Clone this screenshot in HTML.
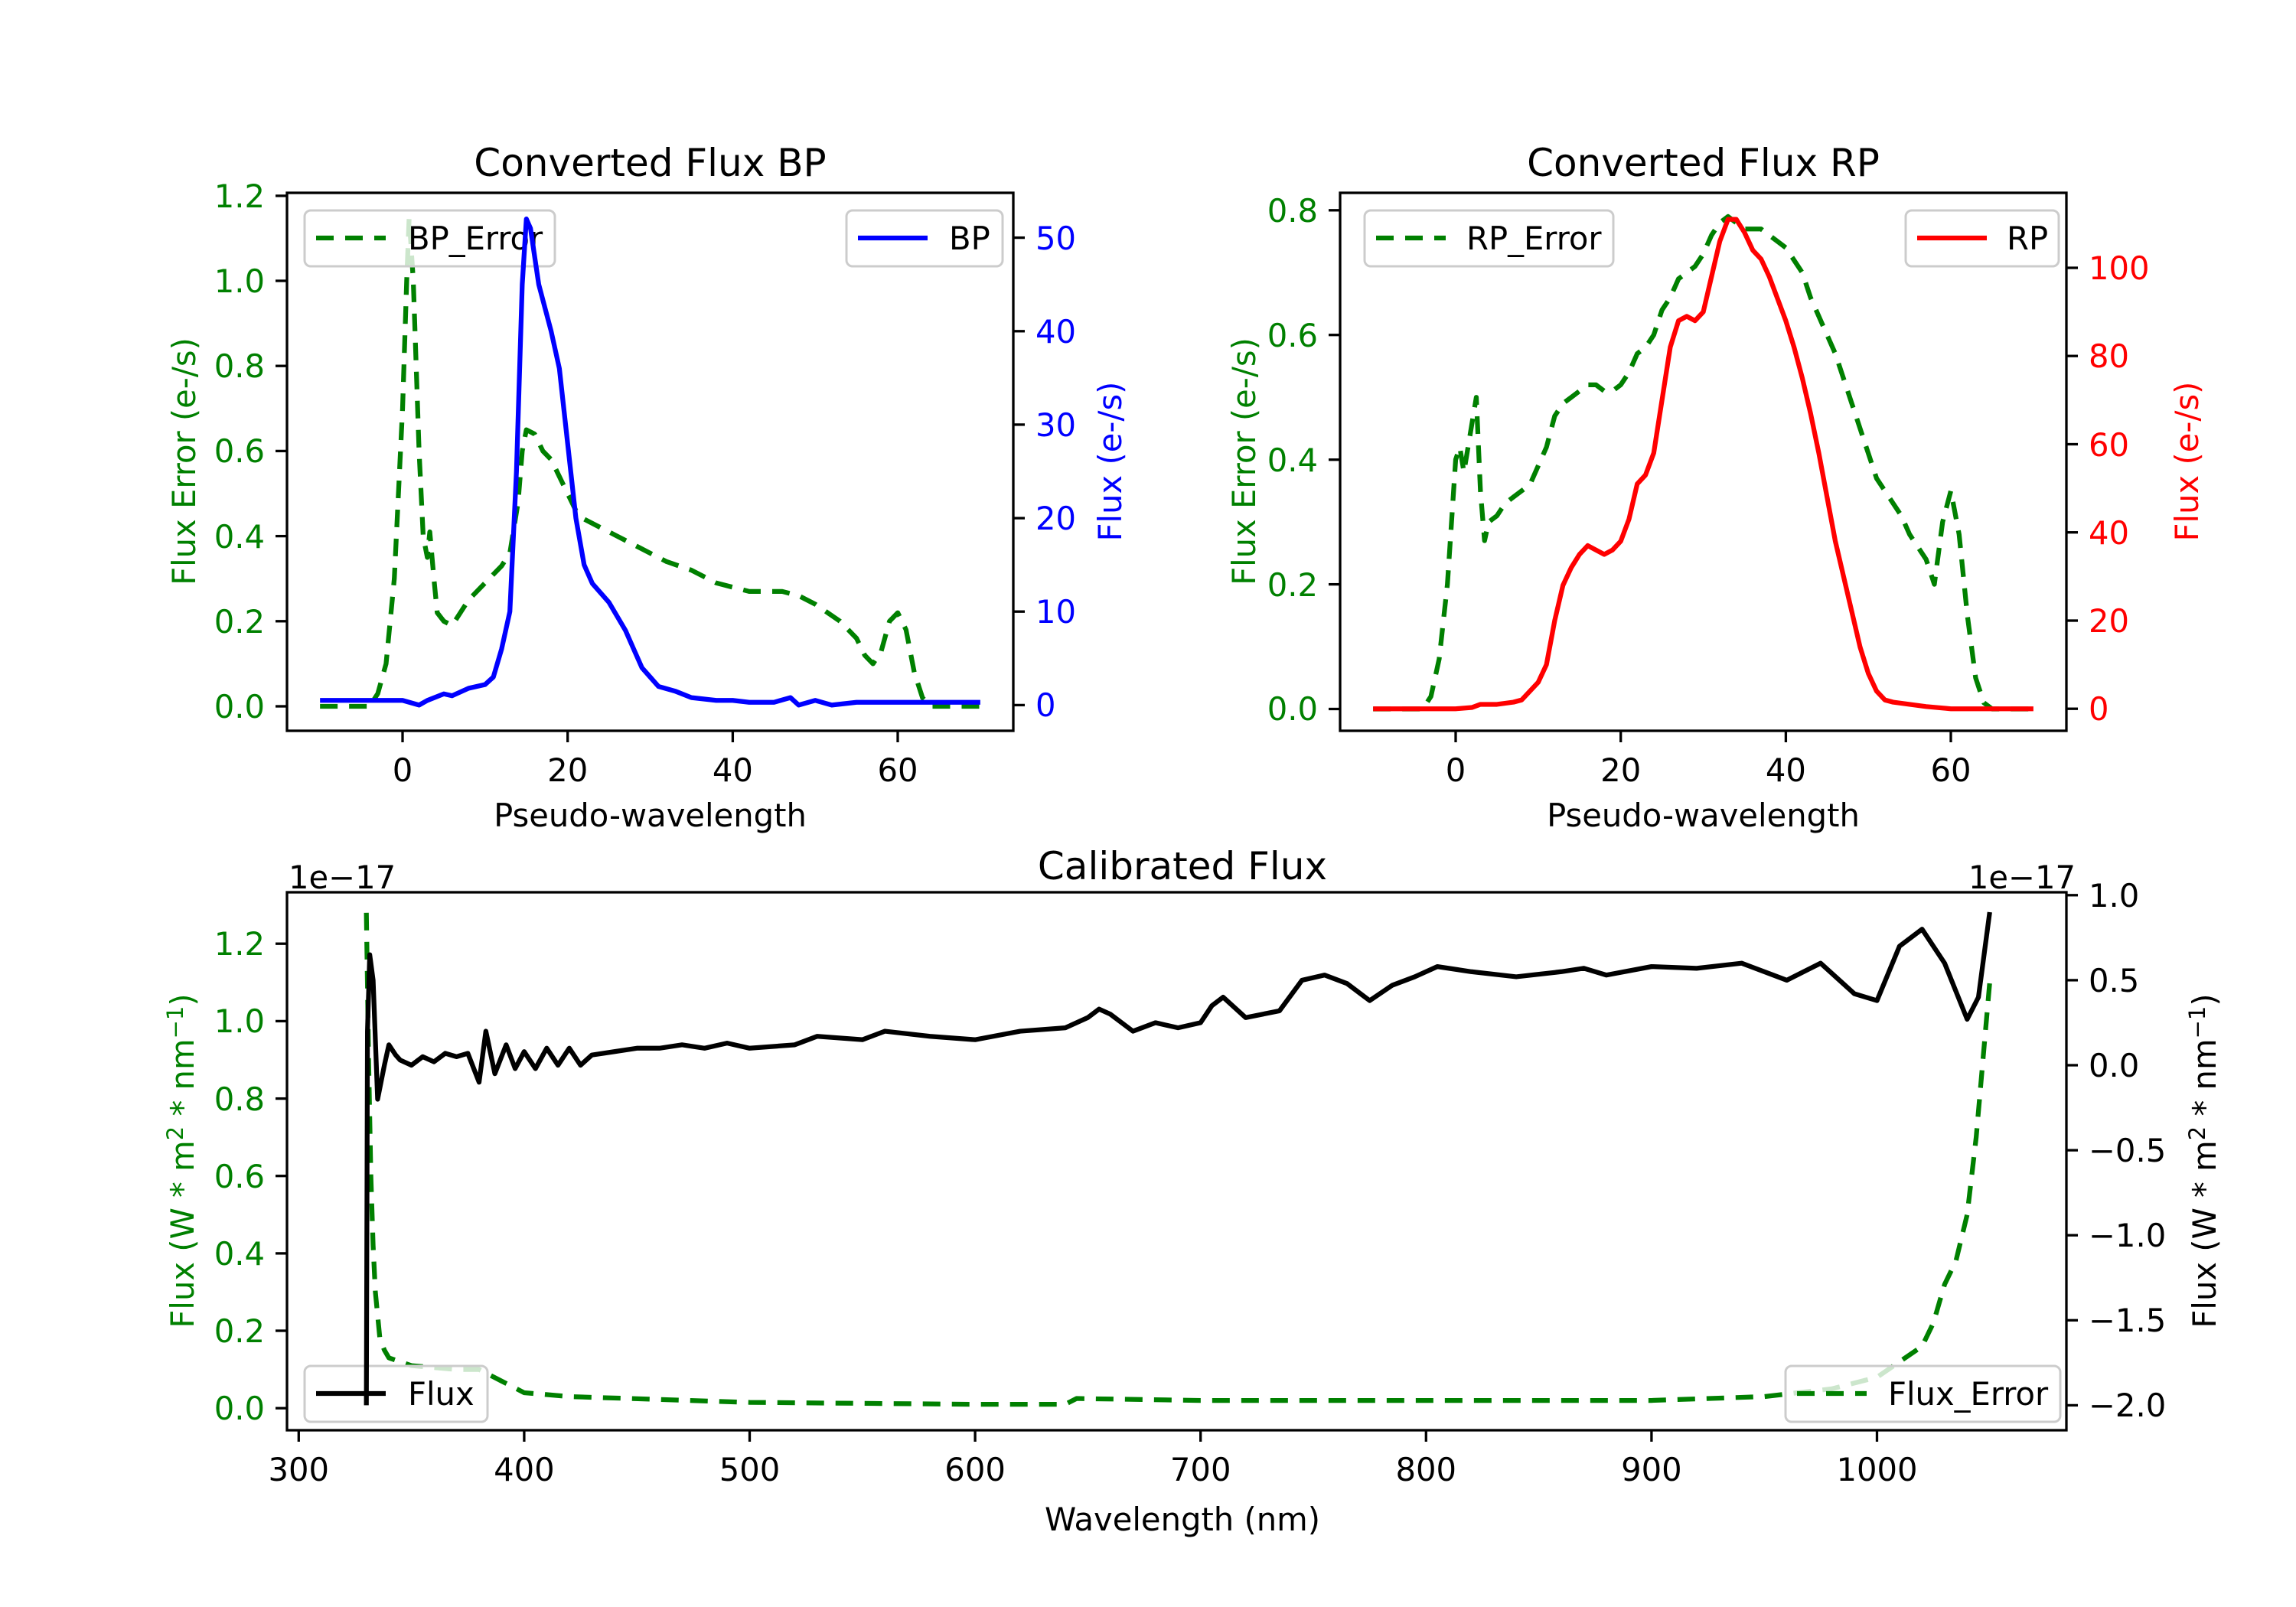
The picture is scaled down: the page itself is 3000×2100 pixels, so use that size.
<!DOCTYPE html>
<html><head><meta charset="utf-8"><style>html,body{margin:0;padding:0;background:#fff}svg{display:block}text{font-family:"DejaVu Sans","Liberation Sans",sans-serif;font-size:41.7px}.t{font-size:50px}.s{font-size:29px}</style></head>
<body>
<svg width="3000" height="2100" viewBox="0 0 3000 2100" xmlns="http://www.w3.org/2000/svg">
<rect width="3000" height="2100" fill="#fff"/>

<!-- ============ TOP LEFT ============ -->
<polyline transform="matrix(10.784 0 0 -555.95 526 923)" vector-effect="non-scaling-stroke" fill="none" stroke-linejoin="round" stroke="#008000" stroke-width="6.25" stroke-dasharray="23 15" points="-10,0 -4,0 -3,0.03 -2,0.1 -1,0.3 0,0.7 0.5,1.0 0.8,1.15 1.3,1.0 2,0.6 2.5,0.4 3,0.35 3.3,0.41 3.8,0.3 4.2,0.22 5,0.2 6,0.19 7,0.22 8,0.25 10,0.29 12,0.33 13,0.36 14,0.48 14.5,0.6 15,0.65 16,0.64 17,0.6 18,0.58 19,0.54 20,0.5 21,0.46 22,0.44 24,0.42 26,0.4 28,0.38 30,0.36 32,0.34 35,0.32 38,0.29 42,0.27 46,0.27 48,0.26 50,0.24 53,0.2 55,0.16 56,0.12 57,0.1 58,0.13 59,0.2 60,0.22 61,0.18 62,0.08 63,0.02 64,0 70,0"/>
<rect x="398" y="275" width="327" height="73" rx="8" fill="#fff" fill-opacity="0.8" stroke="#ccc" stroke-width="3"/>
<line x1="413" y1="311" x2="504" y2="311" stroke="#008000" stroke-width="6.25" stroke-dasharray="23 15"/>
<text x="533" y="326">BP_Error</text>
<polyline transform="matrix(10.784 0 0 -12.216 526 921.4)" vector-effect="non-scaling-stroke" fill="none" stroke="#0000ff" stroke-width="6.25" stroke-linejoin="round" points="-10,0.5 0,0.5 2,0 3,0.5 5,1.2 6,1 8,1.8 10,2.2 11,3 12,6 13,10 13.8,25 14.5,45 15,52 15.5,51 16.5,45 18,40 19,36 20,28 21,20 22,15 23,13 25,11 27,8 28,6 29,4 30,3 31,2 33,1.5 35,0.8 38,0.5 40,0.5 42,0.3 45,0.3 47,0.8 48,0 50,0.5 52,0 55,0.3 60,0.3 70,0.3"/>
<rect x="1106" y="275" width="204" height="73" rx="8" fill="#fff" fill-opacity="0.8" stroke="#ccc" stroke-width="3"/>
<line x1="1121" y1="311" x2="1212" y2="311" stroke="#0000ff" stroke-width="6.25"/>
<text x="1240" y="326">BP</text>
<rect x="375" y="252" width="949" height="703" fill="none" stroke="#000" stroke-width="3.3"/>
<g stroke="#000" stroke-width="3.3">
<line x1="526" y1="955" x2="526" y2="970"/><line x1="741.7" y1="955" x2="741.7" y2="970"/><line x1="957.4" y1="955" x2="957.4" y2="970"/><line x1="1173" y1="955" x2="1173" y2="970"/>
<line x1="360" y1="923" x2="375" y2="923"/><line x1="360" y1="811.8" x2="375" y2="811.8"/><line x1="360" y1="700.6" x2="375" y2="700.6"/><line x1="360" y1="589.4" x2="375" y2="589.4"/><line x1="360" y1="478.2" x2="375" y2="478.2"/><line x1="360" y1="367" x2="375" y2="367"/><line x1="360" y1="255.9" x2="375" y2="255.9"/>
<line x1="1324" y1="921.4" x2="1339" y2="921.4"/><line x1="1324" y1="799.2" x2="1339" y2="799.2"/><line x1="1324" y1="677.1" x2="1339" y2="677.1"/><line x1="1324" y1="554.9" x2="1339" y2="554.9"/><line x1="1324" y1="432.8" x2="1339" y2="432.8"/><line x1="1324" y1="310.6" x2="1339" y2="310.6"/>
</g>
<g text-anchor="middle"><text x="526" y="1021">0</text><text x="741.7" y="1021">20</text><text x="957.4" y="1021">40</text><text x="1173" y="1021">60</text>
<text x="849.5" y="1080">Pseudo-wavelength</text><text x="849.5" y="230" class="t">Converted Flux BP</text></g>
<g text-anchor="end" fill="#008000"><text x="346" y="938">0.0</text><text x="346" y="827">0.2</text><text x="346" y="716">0.4</text><text x="346" y="604">0.6</text><text x="346" y="493">0.8</text><text x="346" y="382">1.0</text><text x="346" y="271">1.2</text></g>
<g fill="#0000ff"><text x="1353" y="936">0</text><text x="1353" y="814">10</text><text x="1353" y="692">20</text><text x="1353" y="570">30</text><text x="1353" y="448">40</text><text x="1353" y="326">50</text></g>
<text transform="translate(255 603) rotate(-90)" text-anchor="middle" fill="#008000">Flux Error (e-/s)</text>
<text transform="translate(1465 603) rotate(-90)" text-anchor="middle" fill="#0000ff">Flux (e-/s)</text>

<!-- ============ TOP RIGHT ============ -->
<polyline transform="matrix(10.784 0 0 -814.6 1902 926.5)" vector-effect="non-scaling-stroke" fill="none" stroke="#008000" stroke-width="6.25" stroke-linejoin="round" stroke-dasharray="23 15" points="-10,0 -4,0 -3,0.02 -2,0.08 -1,0.2 0,0.4 0.5,0.42 1,0.38 1.5,0.42 2,0.46 2.5,0.5 3,0.35 3.5,0.27 4,0.3 5,0.31 6,0.33 7,0.34 8,0.35 9,0.36 10,0.39 11,0.42 12,0.47 13,0.49 14,0.5 16,0.52 17,0.52 18,0.51 19,0.51 20,0.52 21,0.54 22,0.57 23,0.58 24,0.6 25,0.64 26,0.66 27,0.69 28,0.7 29,0.71 30,0.73 31,0.76 32,0.78 33,0.79 34,0.78 35,0.77 36,0.77 37,0.77 38,0.76 39,0.75 40,0.74 41,0.72 42,0.7 43,0.66 45,0.6 46,0.57 47,0.53 48,0.49 49,0.45 50,0.41 51,0.37 52,0.35 53,0.33 54,0.31 55,0.28 56,0.26 57,0.24 57.5,0.22 58,0.2 59,0.3 60,0.35 61,0.28 62,0.15 63,0.05 64,0.01 65,0 70,0"/>
<rect x="1783" y="275" width="325" height="73" rx="8" fill="#fff" fill-opacity="0.8" stroke="#ccc" stroke-width="3"/>
<line x1="1798" y1="311" x2="1889" y2="311" stroke="#008000" stroke-width="6.25" stroke-dasharray="23 15"/>
<text x="1916" y="326">RP_Error</text>
<polyline transform="matrix(10.784 0 0 -5.762 1902 926.2)" vector-effect="non-scaling-stroke" fill="none" stroke="#ff0000" stroke-width="6.25" stroke-linejoin="round" points="-10,0 0,0 2,0.3 3,1 5,1 7,1.5 8,2 9,4 10,6 11,10 12,20 13,28 14,32 15,35 16,37 17,36 18,35 19,36 20,38 21,43 22,51 23,53 24,58 25,70 26,82 27,88 28,89 29,88 30,90 31,98 32,106 33,111 34,111 35,108 36,104 37,102 38,98 39,93 40,88 41,82 42,75 43,67 44,58 45,48 46,38 47,30 48,22 49,14 50,8 51,4 52,2 53,1.5 55,1 57,0.5 60,0 70,0"/>
<rect x="2490" y="275" width="200" height="73" rx="8" fill="#fff" fill-opacity="0.8" stroke="#ccc" stroke-width="3"/>
<line x1="2505" y1="311" x2="2596" y2="311" stroke="#ff0000" stroke-width="6.25"/>
<text x="2622" y="326">RP</text>
<rect x="1751" y="252" width="949" height="703" fill="none" stroke="#000" stroke-width="3.3"/>
<g stroke="#000" stroke-width="3.3">
<line x1="1902" y1="955" x2="1902" y2="970"/><line x1="2117.7" y1="955" x2="2117.7" y2="970"/><line x1="2333.4" y1="955" x2="2333.4" y2="970"/><line x1="2549" y1="955" x2="2549" y2="970"/>
<line x1="1736" y1="926.5" x2="1751" y2="926.5"/><line x1="1736" y1="763.6" x2="1751" y2="763.6"/><line x1="1736" y1="600.7" x2="1751" y2="600.7"/><line x1="1736" y1="437.7" x2="1751" y2="437.7"/><line x1="1736" y1="274.8" x2="1751" y2="274.8"/>
<line x1="2700" y1="926.2" x2="2715" y2="926.2"/><line x1="2700" y1="811" x2="2715" y2="811"/><line x1="2700" y1="695.7" x2="2715" y2="695.7"/><line x1="2700" y1="580.5" x2="2715" y2="580.5"/><line x1="2700" y1="465.2" x2="2715" y2="465.2"/><line x1="2700" y1="350" x2="2715" y2="350"/>
</g>
<g text-anchor="middle"><text x="1902" y="1021">0</text><text x="2117.7" y="1021">20</text><text x="2333.4" y="1021">40</text><text x="2549" y="1021">60</text>
<text x="2225.5" y="1080">Pseudo-wavelength</text><text x="2225.5" y="230" class="t">Converted Flux RP</text></g>
<g text-anchor="end" fill="#008000"><text x="1722" y="941">0.0</text><text x="1722" y="779">0.2</text><text x="1722" y="616">0.4</text><text x="1722" y="453">0.6</text><text x="1722" y="290">0.8</text></g>
<g fill="#ff0000"><text x="2729" y="941">0</text><text x="2729" y="826">20</text><text x="2729" y="711">40</text><text x="2729" y="596">60</text><text x="2729" y="480">80</text><text x="2729" y="365">100</text></g>
<text transform="translate(1640 603) rotate(-90)" text-anchor="middle" fill="#008000">Flux Error (e-/s)</text>
<text transform="translate(2872 603) rotate(-90)" text-anchor="middle" fill="#ff0000">Flux (e-/s)</text>

<!-- ============ BOTTOM ============ -->
<polyline transform="matrix(2.946 0 0 -505.8 -493.5 1840.2)" vector-effect="non-scaling-stroke" fill="none" stroke="#008000" stroke-width="6.25" stroke-linejoin="round" stroke-dasharray="23 15" points="330,1.28 331,0.9 332,0.6 333,0.42 334,0.3 336,0.18 338,0.15 340,0.13 350,0.11 370,0.1 380,0.1 390,0.07 400,0.04 420,0.03 500,0.015 600,0.01 640,0.01 645,0.025 700,0.02 800,0.02 900,0.02 950,0.03 980,0.05 1000,0.08 1010,0.12 1020,0.16 1025,0.22 1030,0.32 1035,0.38 1040,0.5 1044,0.7 1047,0.9 1050,1.1"/>
<rect x="398" y="1785" width="239" height="73" rx="8" fill="#fff" fill-opacity="0.8" stroke="#ccc" stroke-width="3"/>
<line x1="413" y1="1821" x2="504" y2="1821" stroke="#000" stroke-width="6.25"/>
<text x="533" y="1836">Flux</text>
<polyline transform="matrix(2.946 0 0 -222.2 -493.5 1392)" vector-effect="non-scaling-stroke" fill="none" stroke="#000" stroke-width="6.25" stroke-linejoin="round" points="330,-2.0 330.5,0.2 331.5,0.65 333,0.5 335,-0.2 338,0 340,0.12 343,0.06 345,0.03 350,0 355,0.05 360,0.02 365,0.07 370,0.05 375,0.07 380,-0.1 383,0.2 387,-0.05 392,0.12 396,-0.02 400,0.08 405,-0.02 410,0.1 415,0 420,0.1 425,0 430,0.06 440,0.08 450,0.1 460,0.1 470,0.12 480,0.1 490,0.13 500,0.1 520,0.12 530,0.17 550,0.15 560,0.2 580,0.17 600,0.15 620,0.2 640,0.22 650,0.28 655,0.33 660,0.3 670,0.2 680,0.25 690,0.22 700,0.25 705,0.35 710,0.4 720,0.28 735,0.32 745,0.5 755,0.53 765,0.48 775,0.38 785,0.47 795,0.52 805,0.58 820,0.55 840,0.52 860,0.55 870,0.57 880,0.53 900,0.58 920,0.57 940,0.6 960,0.5 975,0.6 990,0.42 1000,0.38 1010,0.7 1020,0.8 1030,0.6 1040,0.27 1045,0.4 1050,0.9"/>
<rect x="2333" y="1785" width="359" height="73" rx="8" fill="#fff" fill-opacity="0.8" stroke="#ccc" stroke-width="3"/>
<line x1="2348" y1="1821" x2="2439" y2="1821" stroke="#008000" stroke-width="6.25" stroke-dasharray="23 15"/>
<text x="2467" y="1836">Flux_Error</text>
<rect x="375" y="1166" width="2325" height="703" fill="none" stroke="#000" stroke-width="3.3"/>
<g stroke="#000" stroke-width="3.3">
<line x1="390.3" y1="1869" x2="390.3" y2="1884"/><line x1="684.9" y1="1869" x2="684.9" y2="1884"/><line x1="979.5" y1="1869" x2="979.5" y2="1884"/><line x1="1274.1" y1="1869" x2="1274.1" y2="1884"/><line x1="1568.7" y1="1869" x2="1568.7" y2="1884"/><line x1="1863.3" y1="1869" x2="1863.3" y2="1884"/><line x1="2157.9" y1="1869" x2="2157.9" y2="1884"/><line x1="2452.5" y1="1869" x2="2452.5" y2="1884"/>
<line x1="360" y1="1840.2" x2="375" y2="1840.2"/><line x1="360" y1="1739" x2="375" y2="1739"/><line x1="360" y1="1637.9" x2="375" y2="1637.9"/><line x1="360" y1="1536.7" x2="375" y2="1536.7"/><line x1="360" y1="1435.6" x2="375" y2="1435.6"/><line x1="360" y1="1334.4" x2="375" y2="1334.4"/><line x1="360" y1="1233.2" x2="375" y2="1233.2"/>
<line x1="2700" y1="1836.4" x2="2715" y2="1836.4"/><line x1="2700" y1="1725.3" x2="2715" y2="1725.3"/><line x1="2700" y1="1614.2" x2="2715" y2="1614.2"/><line x1="2700" y1="1503.1" x2="2715" y2="1503.1"/><line x1="2700" y1="1392" x2="2715" y2="1392"/><line x1="2700" y1="1280.9" x2="2715" y2="1280.9"/><line x1="2700" y1="1169.8" x2="2715" y2="1169.8"/>
</g>
<g text-anchor="middle"><text x="390.3" y="1935">300</text><text x="684.9" y="1935">400</text><text x="979.5" y="1935">500</text><text x="1274.1" y="1935">600</text><text x="1568.7" y="1935">700</text><text x="1863.3" y="1935">800</text><text x="2157.9" y="1935">900</text><text x="2452.5" y="1935">1000</text>
<text x="1545" y="2000">Wavelength (nm)</text><text x="1545" y="1149" class="t">Calibrated Flux</text></g>
<text x="377" y="1161">1e−17</text>
<text x="2712" y="1161" text-anchor="end">1e−17</text>
<g text-anchor="end" fill="#008000"><text x="346" y="1855">0.0</text><text x="346" y="1754">0.2</text><text x="346" y="1653">0.4</text><text x="346" y="1552">0.6</text><text x="346" y="1451">0.8</text><text x="346" y="1349">1.0</text><text x="346" y="1248">1.2</text></g>
<g><text x="2729" y="1851">−2.0</text><text x="2729" y="1740">−1.5</text><text x="2729" y="1629">−1.0</text><text x="2729" y="1518">−0.5</text><text x="2729" y="1407">0.0</text><text x="2729" y="1296">0.5</text><text x="2729" y="1185">1.0</text></g>
<text transform="translate(253 1517) rotate(-90)" text-anchor="middle" fill="#008000">Flux (W * m<tspan class="s" dy="-14">2</tspan><tspan dy="14"> * nm</tspan><tspan class="s" dy="-14">−1</tspan><tspan dy="14">)</tspan></text>
<text transform="translate(2895 1517) rotate(-90)" text-anchor="middle">Flux (W * m<tspan class="s" dy="-14">2</tspan><tspan dy="14"> * nm</tspan><tspan class="s" dy="-14">−1</tspan><tspan dy="14">)</tspan></text>
</svg>
</body></html>
